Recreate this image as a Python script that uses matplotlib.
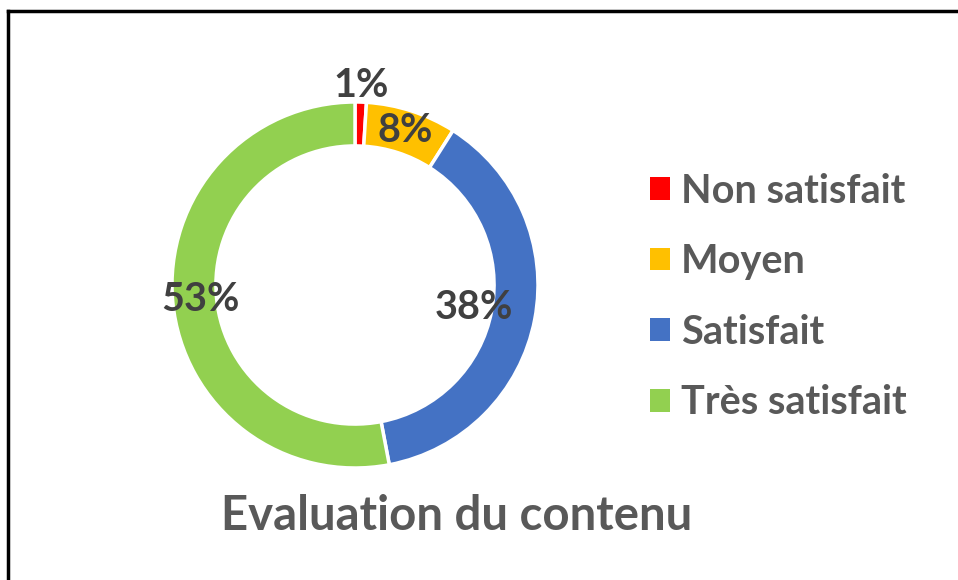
import numpy as np
import matplotlib.pyplot as plt
from matplotlib.lines import Line2D
from matplotlib.patches import Patch

# Données
categories = ['Non satisfait', 'Moyen', 'Satisfait', 'Très satisfait']
pourcentages = [1, 8, 38, 53]
couleurs = ['#FF0000', '#FFC000', '#4472C4', '#92D050']
titre = 'Evaluation du contenu'

# distance des étiquettes au centre (en rayon)
label_r = [1.09, 0.89, 0.66, 0.85]

plt.rcParams['font.family'] = ['Lato', 'DejaVu Sans']

fig = plt.figure(figsize=(9.58, 5.8), dpi=100)
W, H = 958, 580

# anneau : centre (355, 285) px, rayon 183 px
cx, cy, R = 355, 285, 183
ax = fig.add_axes([(cx - R) / W, (H - cy - R) / H, 2 * R / W, 2 * R / H])
wedges, _ = ax.pie(pourcentages, colors=couleurs, startangle=90,
                   counterclock=False, radius=1,
                   wedgeprops=dict(width=0.24, edgecolor='white', linewidth=2.5))
ax.set_xlim(-1, 1)
ax.set_ylim(-1, 1)
ax.set_aspect('auto')
ax.axis('off')

for w, p, r in zip(wedges, pourcentages, label_r):
    ang = np.deg2rad((w.theta1 + w.theta2) / 2)
    ax.text(r * np.cos(ang), r * np.sin(ang), f'{p}%', ha='center', va='center',
            fontsize=28.5, fontweight='bold', color='#404040', clip_on=False)

# légende
handles = [Patch(facecolor=c, edgecolor='none') for c in couleurs]
fig.legend(handles, categories, loc='center left',
           bbox_to_anchor=(650 / W, (H - 297) / H), frameon=False,
           prop=dict(size=28.5, weight='bold'), labelcolor='#595959',
           handlelength=0.5, handleheight=0.5, handletextpad=0.28,
           labelspacing=0.85, borderpad=0, borderaxespad=0)

fig.text(457 / W, (H - 516) / H, titre, ha='center', va='center',
         fontsize=34, fontweight='bold', color='#595959')

# cadre (seuls les bords haut et gauche sont visibles)
fig.add_artist(Line2D([8 / W, 1], [1 - 11 / H, 1 - 11 / H], color='black', lw=2.5))
fig.add_artist(Line2D([8 / W, 8 / W], [0, 1 - 11 / H], color='black', lw=2.5))

fig.savefig('out.png', dpi=100, facecolor='white')
